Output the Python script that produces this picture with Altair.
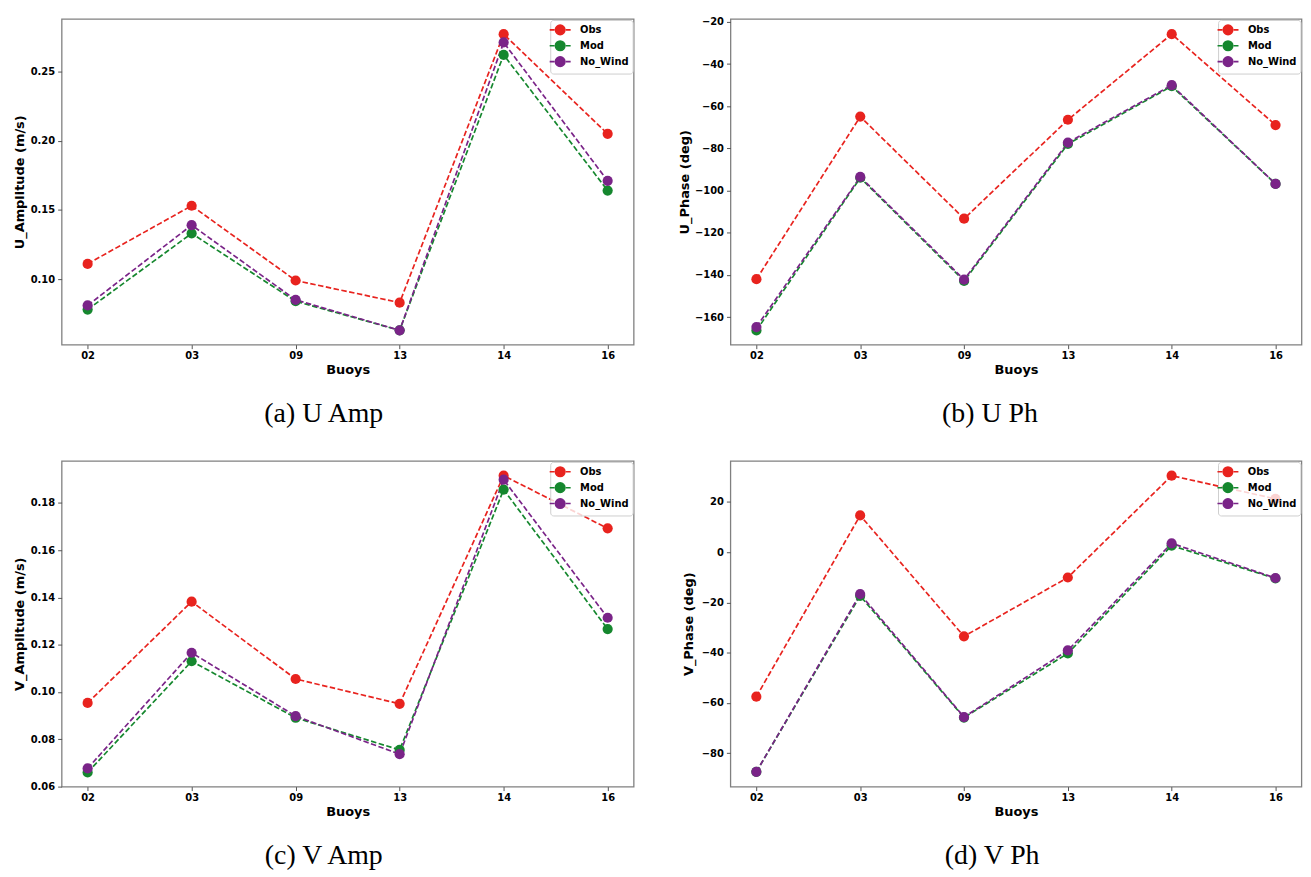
import altair as alt
import pandas as pd

buoys = ["02", "03", "09", "13", "14", "16"]
series_names = ["Obs", "Mod", "No_Wind"]
series_colors = ["#e8231e", "#15872e", "#7a2488"]

u_amp_obs = [0.111, 0.153, 0.099, 0.083, 0.277, 0.205]
u_amp_mod = [0.078, 0.133, 0.084, 0.063, 0.262, 0.164]
u_amp_nowind = [0.081, 0.139, 0.085, 0.063, 0.271, 0.171]

u_ph_obs = [-142.0, -64.9, -113.3, -66.4, -25.8, -68.9]
u_ph_mod = [-166.3, -93.9, -142.8, -77.9, -50.5, -96.8]
u_ph_nowind = [-164.7, -93.5, -142.2, -77.2, -50.0, -96.8]

v_amp_obs = [0.0954, 0.1382, 0.1055, 0.0950, 0.1915, 0.1692]
v_amp_mod = [0.0660, 0.1130, 0.0891, 0.0755, 0.1856, 0.1266]
v_amp_nowind = [0.0677, 0.1166, 0.0898, 0.0737, 0.1898, 0.1314]

v_ph_obs = [-57.5, 14.6, -33.5, -10.1, 30.4, 21.2]
v_ph_mod = [-87.4, -17.4, -65.8, -40.3, 2.6, -10.5]
v_ph_nowind = [-87.4, -16.7, -65.6, -39.1, 3.5, -10.3]

u_amp_ticks = [0.10, 0.15, 0.20, 0.25]
u_ph_ticks = [-160, -140, -120, -100, -80, -60, -40, -20]
v_amp_ticks = [0.06, 0.08, 0.10, 0.12, 0.14, 0.16, 0.18]
v_ph_ticks = [-80, -60, -40, -20, 0, 20]

LEGEND_PATH = "M-2.2,0L-1.2,0M1.2,0L2.2,0M1,0A1,1,0,1,1,-1,0A1,1,0,1,1,1,0Z"


def make_df(obs, mod, nw):
    rows = []
    for name, vals in zip(series_names, [obs, mod, nw]):
        for b, v in zip(buoys, vals):
            rows.append({"buoy": b, "series": name, "value": v})
    return pd.DataFrame(rows)


def panel(obs, mod, nw, ytitle, domain, ticks, fmt, caption, extent, tpad, width):
    df = make_df(obs, mod, nw)
    cscale = alt.Scale(domain=series_names, range=series_colors)
    leg = alt.Legend(
        title=None,
        orient="top-right",
        offset=1,
        symbolType=LEGEND_PATH,
        symbolSize=92,
        symbolStrokeWidth=1.6,
        symbolDash=[40, 0],
        symbolOpacity=1,
        labelFont="DejaVu Sans",
        labelFontWeight="bold",
        labelFontSize=10,
        labelColor="black",
        labelOffset=14,
        rowPadding=0,
        padding=4,
        fillColor="rgba(255,255,255,0.8)",
        strokeColor="#cfcfcf",
        cornerRadius=3,
    )
    x = alt.X(
        "buoy:O",
        sort=buoys,
        scale=alt.Scale(type="point", padding=0.25),
        axis=alt.Axis(title="Buoys", labelAngle=0, labelPadding=2, titlePadding=3),
    )
    axis_kwargs = dict(
        values=ticks,
        format=fmt,
        title=ytitle,
        minExtent=extent,
        maxExtent=extent,
        titlePadding=tpad,
        labelPadding=3,
    )
    if fmt == "d":
        axis_kwargs["labelExpr"] = "replace(datum.label, '-', '\u2212')"
    y = alt.Y(
        "value:Q",
        scale=alt.Scale(domain=domain, nice=False, zero=False),
        axis=alt.Axis(**axis_kwargs),
    )
    base = alt.Chart(df)
    line = base.mark_line(strokeDash=[5.5, 2.5], strokeWidth=1.7).encode(
        x=x, y=y, stroke=alt.Stroke("series:N", scale=cscale, legend=leg)
    )
    pts = base.mark_point(filled=True, size=105, opacity=1, strokeWidth=0).encode(
        x=x, y=y, fill=alt.Fill("series:N", scale=cscale, legend=leg)
    )
    return alt.layer(line, pts).properties(
        width=width,
        height=328,
        title=alt.TitleParams(
            caption,
            orient="bottom",
            anchor="middle",
            frame="bounds",
            offset=24,
            font="Liberation Serif",
            fontSize=28,
            fontWeight="normal",
            color="black",
        ),
    )


a = panel(u_amp_obs, u_amp_mod, u_amp_nowind, "U_Amplitude (m/s)",
          [0.05263, 0.2880], u_amp_ticks, ".2f", "(a) U Amp", 31, 4, 576)
b = panel(u_ph_obs, u_ph_mod, u_ph_nowind, "U_Phase (deg)",
          [-173.04, -18.59], u_ph_ticks, "d", "(b) U Ph", 36, 3.5, 575)
c = panel(v_amp_obs, v_amp_mod, v_amp_nowind, "V_Amplitude (m/s)",
          [0.06, 0.19775], v_amp_ticks, ".2f", "(c) V Amp", 31, 4, 576)
d = panel(v_ph_obs, v_ph_mod, v_ph_nowind, "V_Phase (deg)",
          [-93.26, 36.3], v_ph_ticks, "d", "(d) V Ph", 30, 4.8, 575)

row1 = alt.hconcat(a, b, spacing=42.5).resolve_scale(fill="independent", stroke="independent")
row2 = alt.hconcat(c, d, spacing=47.4).resolve_scale(fill="independent", stroke="independent")

chart = (
    alt.vconcat(row1, row2, spacing=31)
    .resolve_scale(fill="independent", stroke="independent")
    .properties(padding={"left": 5, "top": 5, "right": 0, "bottom": 0})
    .configure_view(stroke="#808080", strokeWidth=1.3)
    .configure_axis(
        grid=False,
        domain=False,
        labelFont="DejaVu Sans",
        labelFontWeight="bold",
        labelFontSize=10,
        labelColor="black",
        titleFont="DejaVu Sans",
        titleFontWeight="bold",
        titleFontSize=13,
        titleColor="black",
        tickColor="#555555",
        tickSize=4,
        tickWidth=1,
    )
)

chart.save("out.html", embed_options={"renderer": "svg", "actions": False})
